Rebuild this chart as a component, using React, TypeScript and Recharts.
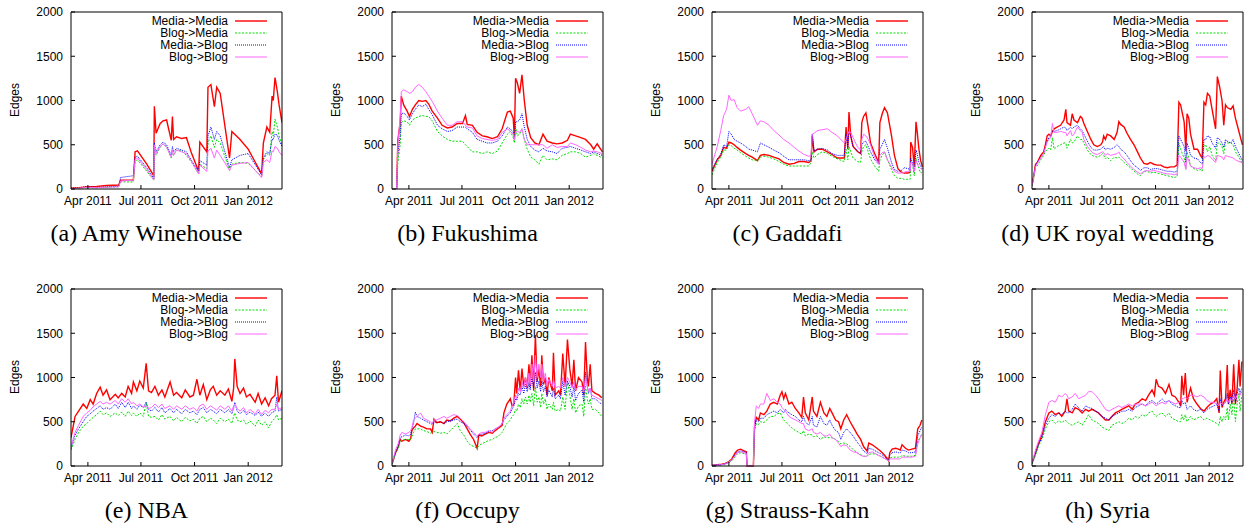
import React from 'react'
import { LineChart, Line, XAxis, YAxis } from 'recharts'

// x values are days after 1 Apr 2011
const X_TICKS = [0, 91, 183, 275]
const X_LABELS = ['Apr 2011', 'Jul 2011', 'Oct 2011', 'Jan 2012']
const Y_TICKS = [0, 500, 1000, 1500, 2000]
const SERIES = ['Media->Media', 'Blog->Media', 'Media->Blog', 'Blog->Blog']

// (a) Amy Winehouse
const amyDays = [-29, -14, 0, 15, 32, 53, 56, 78, 81, 85, 101, 113, 114, 117, 124, 129, 135, 143, 145, 147, 152, 161, 169, 178, 190, 192, 204, 206, 211, 217, 221, 227, 243, 247, 261, 275, 298, 301, 307, 312, 316, 318, 321, 325, 328, 333]
const amyMM = [10, 15, 25, 30, 40, 45, 100, 100, 420, 430, 280, 150, 935, 630, 740, 770, 780, 550, 820, 560, 590, 570, 580, 400, 200, 530, 420, 1150, 1180, 930, 1150, 1080, 350, 650, 560, 450, 170, 520, 700, 640, 1050, 1000, 1260, 1100, 950, 750]
const amyBM = [5, 10, 15, 15, 20, 25, 80, 80, 300, 330, 200, 100, 450, 380, 470, 510, 480, 350, 430, 380, 440, 430, 380, 300, 170, 280, 230, 520, 600, 470, 560, 520, 210, 280, 300, 290, 140, 330, 400, 380, 650, 600, 790, 700, 600, 500]
const amyMB = [10, 15, 30, 20, 25, 30, 130, 150, 360, 370, 240, 120, 520, 420, 500, 530, 500, 380, 480, 420, 460, 440, 420, 320, 200, 320, 270, 600, 700, 560, 650, 600, 240, 330, 380, 400, 160, 350, 420, 400, 560, 560, 620, 610, 550, 480]
const amyBB = [5, 10, 20, 15, 20, 25, 90, 100, 330, 350, 220, 100, 500, 400, 480, 510, 470, 360, 440, 380, 440, 420, 400, 310, 170, 270, 200, 430, 460, 350, 440, 380, 210, 270, 290, 300, 130, 300, 330, 300, 430, 420, 480, 460, 420, 380]

// (b) Fukushima
const fukDays = [-21, -19, -15, -13, -9, -3, 1, 6, 11, 17, 23, 29, 34, 40, 49, 57, 66, 74, 83, 92, 97, 100, 109, 117, 126, 134, 143, 152, 160, 169, 174, 179, 181, 183, 186, 190, 194, 198, 203, 209, 216, 223, 230, 237, 246, 254, 263, 272, 277, 286, 295, 303, 312, 317, 323, 332]
const fukMM = [0, 550, 750, 1050, 950, 880, 820, 900, 950, 1000, 990, 1000, 960, 880, 800, 720, 690, 700, 740, 740, 830, 730, 720, 640, 600, 590, 570, 590, 680, 870, 880, 800, 560, 1250, 1200, 1080, 1290, 1000, 720, 580, 520, 500, 620, 540, 520, 510, 520, 550, 620, 600, 580, 560, 500, 450, 510, 420]
const fukBM = [0, 300, 500, 750, 770, 760, 720, 780, 800, 820, 830, 820, 820, 770, 650, 600, 560, 540, 540, 540, 500, 480, 420, 420, 400, 420, 400, 430, 520, 620, 650, 580, 520, 700, 600, 620, 680, 560, 450, 360, 330, 280, 380, 330, 340, 330, 380, 400, 420, 420, 400, 360, 380, 400, 380, 350]
const fukMB = [0, 400, 600, 850, 860, 820, 780, 850, 900, 950, 930, 960, 900, 840, 720, 680, 650, 660, 700, 700, 700, 680, 640, 560, 540, 520, 520, 540, 600, 700, 680, 640, 560, 760, 760, 780, 850, 700, 560, 480, 440, 420, 460, 430, 420, 400, 460, 470, 480, 460, 440, 420, 400, 420, 400, 380]
const fukBB = [0, 500, 800, 1100, 1120, 1100, 1080, 1100, 1150, 1180, 1150, 1100, 1050, 990, 880, 800, 720, 720, 760, 760, 720, 700, 690, 600, 570, 560, 550, 560, 640, 680, 650, 620, 560, 640, 650, 640, 680, 560, 500, 500, 500, 500, 500, 460, 500, 470, 480, 480, 520, 500, 470, 440, 420, 430, 420, 400]

// (c) Gaddafi
const gadDays = [-29, -20, -14, -9, -4, 0, 4, 9, 14, 20, 29, 34, 40, 49, 54, 60, 69, 77, 86, 94, 103, 112, 120, 129, 137, 141, 143, 146, 152, 160, 169, 177, 186, 198, 201, 204, 206, 209, 213, 221, 226, 228, 231, 235, 239, 243, 250, 257, 259, 263, 267, 272, 279, 284, 290, 296, 301, 307, 311, 312, 315, 318, 321, 323, 326, 329, 332]
const gadMM = [200, 330, 380, 470, 460, 530, 520, 500, 470, 440, 400, 380, 360, 320, 380, 390, 380, 360, 340, 300, 280, 290, 310, 310, 300, 320, 600, 420, 450, 450, 420, 390, 350, 350, 700, 450, 870, 600, 480, 420, 400, 750, 820, 860, 700, 520, 400, 300, 750, 850, 920, 860, 600, 380, 230, 190, 180, 180, 190, 530, 470, 250, 760, 650, 450, 320, 250]
const gadBM = [160, 300, 360, 440, 440, 500, 490, 460, 440, 410, 370, 350, 330, 320, 360, 370, 360, 340, 310, 280, 260, 260, 260, 260, 260, 300, 420, 350, 390, 420, 400, 370, 340, 310, 450, 330, 480, 420, 350, 310, 300, 420, 480, 500, 420, 340, 260, 200, 330, 380, 420, 330, 220, 150, 120, 120, 110, 110, 110, 310, 280, 150, 350, 300, 230, 180, 200]
const gadMB = [220, 340, 390, 500, 480, 650, 620, 560, 540, 520, 480, 450, 440, 420, 520, 500, 470, 440, 410, 370, 330, 330, 330, 330, 320, 330, 620, 430, 450, 460, 440, 400, 380, 380, 620, 480, 640, 600, 480, 430, 400, 500, 530, 540, 480, 420, 330, 280, 450, 500, 560, 460, 300, 220, 200, 210, 240, 230, 220, 350, 300, 200, 440, 400, 300, 260, 220]
const gadBB = [280, 480, 660, 830, 900, 1060, 1000, 1010, 920, 880, 900, 930, 850, 720, 770, 760, 720, 660, 610, 560, 520, 470, 430, 390, 370, 380, 620, 630, 660, 670, 680, 640, 600, 520, 560, 620, 650, 640, 580, 470, 440, 560, 620, 600, 560, 500, 360, 280, 380, 410, 420, 330, 250, 200, 180, 180, 190, 200, 200, 300, 290, 200, 320, 290, 250, 230, 220]

// (d) UK royal wedding
const ukDays = [-29, -26, -23, -20, -14, -9, -6, -3, 0, 3, 6, 9, 14, 20, 26, 29, 31, 37, 40, 43, 49, 54, 57, 60, 66, 72, 77, 83, 89, 92, 94, 97, 100, 106, 112, 117, 120, 123, 129, 134, 140, 146, 152, 157, 163, 169, 174, 180, 186, 192, 197, 203, 209, 215, 220, 223, 226, 232, 235, 237, 240, 243, 249, 255, 260, 263, 266, 269, 272, 276, 280, 286, 289, 293, 297, 300, 303, 306, 312, 316, 320, 326, 332]
const ukMM = [50, 150, 280, 300, 380, 420, 500, 600, 620, 600, 650, 680, 700, 720, 780, 900, 750, 720, 850, 780, 750, 820, 800, 740, 650, 560, 500, 480, 500, 530, 600, 560, 620, 600, 560, 640, 760, 730, 700, 630, 560, 500, 420, 350, 290, 280, 300, 280, 270, 270, 250, 240, 250, 250, 270, 980, 950, 760, 430, 850, 800, 620, 450, 450, 380, 350, 980, 950, 1080, 1050, 900, 680, 1270, 1150, 1000, 720, 950, 920, 900, 940, 800, 650, 500]
const ukBM = [30, 120, 240, 260, 330, 380, 430, 440, 460, 440, 580, 450, 480, 500, 520, 520, 460, 560, 520, 530, 600, 560, 560, 520, 440, 390, 370, 360, 380, 400, 380, 340, 360, 320, 360, 350, 360, 340, 300, 270, 240, 200, 170, 150, 200, 200, 180, 190, 180, 170, 160, 150, 140, 130, 140, 520, 450, 350, 230, 420, 350, 260, 230, 210, 220, 200, 490, 500, 420, 480, 380, 320, 520, 520, 480, 400, 530, 520, 520, 500, 420, 360, 280]
const ukMB = [40, 150, 260, 300, 360, 400, 480, 540, 580, 600, 660, 650, 660, 680, 700, 690, 660, 700, 680, 700, 720, 680, 660, 620, 540, 470, 440, 440, 450, 470, 480, 440, 460, 450, 470, 500, 480, 450, 420, 380, 320, 270, 240, 210, 240, 240, 220, 230, 230, 220, 210, 200, 200, 190, 200, 600, 560, 480, 300, 520, 460, 380, 350, 340, 300, 280, 560, 560, 600, 590, 520, 460, 580, 560, 520, 470, 560, 540, 520, 560, 480, 400, 320]
const ukBB = [40, 140, 250, 290, 350, 400, 470, 530, 560, 580, 740, 640, 640, 650, 640, 640, 600, 660, 600, 620, 700, 660, 640, 560, 480, 430, 400, 390, 410, 420, 410, 380, 400, 380, 390, 400, 420, 380, 340, 300, 260, 220, 190, 170, 200, 210, 200, 210, 200, 190, 180, 170, 170, 160, 170, 380, 360, 300, 220, 360, 320, 260, 240, 230, 240, 230, 360, 360, 380, 370, 340, 300, 380, 370, 360, 330, 380, 370, 360, 350, 330, 310, 300]

// (e) NBA
const nbaDays = [-29, -22, -16, -8, -2, 4, 9, 15, 21, 26, 32, 38, 47, 52, 58, 64, 69, 75, 78, 84, 89, 95, 100, 104, 109, 115, 121, 127, 132, 141, 147, 152, 161, 167, 175, 181, 187, 192, 198, 204, 210, 215, 221, 227, 235, 241, 247, 250, 252, 256, 261, 267, 272, 278, 287, 292, 298, 304, 310, 315, 321, 324, 327, 333]
const nbaMM = [320, 560, 620, 700, 650, 750, 700, 820, 890, 800, 860, 750, 810, 770, 820, 780, 900, 820, 950, 850, 960, 880, 1160, 850, 830, 900, 800, 860, 780, 950, 800, 830, 770, 860, 780, 800, 980, 800, 920, 750, 860, 900, 800, 850, 800, 870, 730, 880, 1210, 900, 820, 880, 780, 810, 720, 820, 700, 770, 680, 760, 800, 1020, 720, 850]
const nbaBM = [180, 300, 380, 450, 480, 520, 550, 580, 620, 580, 600, 560, 600, 570, 610, 560, 620, 570, 600, 560, 600, 560, 720, 560, 550, 560, 520, 580, 530, 560, 510, 550, 500, 550, 510, 530, 480, 540, 560, 500, 540, 520, 480, 540, 500, 530, 480, 560, 600, 520, 500, 520, 470, 510, 450, 520, 460, 500, 430, 500, 540, 580, 520, 540]
const nbaMB = [200, 350, 420, 500, 560, 590, 620, 650, 680, 640, 660, 640, 700, 650, 720, 660, 720, 650, 680, 640, 690, 660, 720, 640, 620, 660, 610, 660, 600, 650, 600, 640, 590, 640, 600, 620, 580, 640, 660, 600, 640, 620, 590, 640, 600, 640, 590, 650, 720, 620, 590, 630, 580, 610, 570, 610, 560, 600, 560, 600, 620, 780, 620, 640]
const nbaBB = [220, 380, 460, 560, 600, 630, 670, 700, 730, 700, 720, 700, 740, 700, 760, 720, 760, 700, 720, 680, 700, 670, 680, 650, 660, 700, 660, 700, 650, 680, 640, 680, 640, 680, 640, 660, 620, 680, 700, 640, 680, 660, 630, 680, 640, 680, 620, 680, 700, 650, 620, 660, 600, 640, 590, 640, 580, 630, 600, 640, 640, 700, 640, 660]

// (f) Occupy
const occDays = [-29, -23, -18, -15, -12, -6, 0, 3, 5, 8, 11, 14, 20, 25, 31, 37, 40, 43, 48, 54, 60, 65, 71, 77, 83, 88, 94, 100, 105, 111, 117, 120, 125, 131, 137, 143, 148, 154, 160, 163, 168, 174, 177, 180, 183, 185, 188, 191, 194, 197, 200, 203, 206, 208, 211, 214, 217, 220, 223, 226, 228, 231, 234, 237, 240, 246, 248, 251, 257, 260, 264, 268, 272, 276, 280, 283, 286, 291, 297, 300, 303, 306, 308, 311, 314, 320, 326, 331]
const occMM = [20, 150, 220, 300, 280, 300, 280, 310, 400, 430, 450, 480, 450, 440, 420, 420, 380, 530, 490, 500, 480, 520, 510, 540, 560, 530, 490, 420, 360, 300, 200, 350, 340, 360, 380, 370, 400, 430, 460, 600, 700, 760, 680, 700, 1000, 820, 1080, 850, 1100, 900, 1000, 880, 1150, 900, 1250, 850, 1480, 950, 1100, 900, 1250, 920, 1000, 800, 1000, 850, 1280, 800, 850, 800, 1270, 900, 1430, 1100, 900, 1200, 850, 1000, 950, 800, 1400, 1000, 900, 1150, 850, 820, 800, 770]
const occBM = [20, 140, 200, 280, 290, 300, 300, 300, 330, 380, 420, 420, 420, 400, 390, 370, 380, 390, 380, 370, 380, 360, 400, 440, 480, 400, 350, 280, 240, 220, 200, 230, 250, 270, 290, 300, 320, 340, 380, 420, 480, 520, 560, 580, 640, 620, 700, 660, 760, 700, 780, 700, 800, 720, 820, 680, 900, 720, 780, 660, 820, 700, 760, 640, 700, 640, 720, 620, 640, 620, 780, 640, 960, 800, 640, 760, 600, 680, 700, 560, 900, 760, 700, 760, 640, 640, 600, 560]
const occMB = [30, 150, 230, 320, 330, 350, 340, 360, 420, 480, 610, 560, 540, 520, 500, 480, 470, 500, 490, 500, 480, 500, 510, 520, 530, 500, 480, 450, 410, 360, 320, 350, 360, 370, 390, 400, 420, 440, 480, 520, 560, 600, 640, 680, 760, 740, 820, 800, 900, 820, 920, 840, 940, 860, 1000, 880, 1060, 880, 960, 840, 960, 840, 900, 780, 860, 780, 880, 760, 800, 760, 960, 800, 960, 900, 780, 900, 740, 820, 860, 720, 1060, 900, 820, 880, 760, 760, 720, 700]
const occBB = [30, 180, 260, 350, 380, 360, 380, 400, 430, 520, 540, 560, 600, 540, 520, 500, 480, 520, 520, 540, 560, 540, 560, 580, 570, 540, 500, 460, 420, 380, 340, 360, 380, 380, 400, 380, 420, 440, 480, 540, 580, 620, 680, 720, 800, 760, 880, 840, 950, 880, 1000, 900, 1050, 920, 1150, 950, 1250, 1000, 1150, 1000, 1150, 950, 1050, 900, 980, 900, 980, 880, 900, 880, 1000, 900, 1000, 950, 880, 950, 860, 900, 900, 840, 1000, 900, 850, 880, 800, 780, 760, 740]

// (g) Strauss-Kahn
const dskDays = [-29, -20, -12, -6, 0, 5, 11, 15, 20, 26, 30, 31, 42, 44, 47, 51, 54, 60, 65, 71, 77, 83, 88, 91, 94, 97, 103, 108, 114, 120, 125, 128, 131, 137, 143, 145, 151, 157, 163, 168, 173, 177, 183, 188, 192, 197, 202, 208, 214, 220, 226, 231, 237, 240, 246, 254, 260, 266, 271, 274, 276, 280, 286, 291, 294, 297, 303, 308, 314, 320, 324, 328, 331]
const dskMM = [10, 15, 20, 30, 50, 80, 150, 180, 190, 170, 160, 0, 0, 450, 550, 520, 600, 580, 620, 700, 720, 700, 800, 840, 760, 820, 700, 720, 650, 600, 550, 780, 600, 520, 780, 620, 560, 720, 600, 560, 650, 600, 520, 500, 420, 520, 580, 500, 430, 360, 300, 220, 170, 260, 240, 200, 170, 130, 90, 60, 150, 190, 200, 190, 180, 240, 200, 180, 190, 200, 420, 460, 520]
const dskBM = [5, 8, 10, 20, 40, 60, 110, 140, 150, 140, 130, 0, 0, 400, 480, 470, 500, 490, 520, 560, 560, 590, 600, 560, 520, 500, 460, 430, 400, 380, 360, 400, 340, 360, 350, 330, 340, 300, 330, 320, 320, 320, 300, 280, 250, 260, 250, 220, 180, 150, 130, 110, 110, 130, 140, 130, 110, 90, 70, 60, 90, 100, 100, 100, 100, 120, 110, 110, 110, 120, 280, 320, 360]
const dskMB = [8, 10, 15, 25, 45, 70, 130, 160, 170, 160, 150, 0, 0, 430, 520, 500, 540, 540, 580, 600, 620, 600, 640, 620, 600, 640, 600, 580, 560, 520, 500, 560, 500, 460, 560, 460, 440, 560, 480, 460, 520, 460, 400, 380, 300, 380, 420, 380, 330, 270, 220, 170, 140, 200, 190, 160, 140, 110, 80, 60, 120, 150, 160, 150, 150, 180, 170, 150, 150, 160, 340, 400, 440]
const dskBB = [8, 10, 15, 25, 45, 70, 120, 150, 160, 150, 140, 0, 0, 500, 680, 650, 700, 700, 820, 740, 760, 720, 700, 660, 640, 620, 560, 540, 520, 500, 480, 480, 420, 400, 420, 380, 360, 380, 340, 340, 360, 320, 300, 260, 220, 240, 230, 180, 160, 150, 120, 110, 110, 150, 160, 130, 110, 90, 70, 60, 80, 80, 80, 80, 80, 100, 100, 100, 100, 110, 250, 320, 360]

// (h) Syria
const syrDays = [-29, -23, -18, -12, -6, 0, 5, 11, 17, 22, 28, 31, 34, 40, 45, 51, 57, 63, 68, 74, 80, 85, 91, 97, 103, 108, 114, 120, 125, 131, 137, 143, 148, 154, 160, 166, 171, 177, 181, 184, 188, 194, 200, 206, 211, 217, 223, 226, 228, 231, 234, 237, 243, 248, 254, 260, 266, 271, 277, 283, 288, 292, 294, 297, 300, 303, 306, 308, 311, 314, 317, 320, 323, 326, 328, 331]
const syrMM = [30, 150, 250, 350, 500, 600, 620, 580, 600, 560, 620, 760, 620, 600, 660, 640, 600, 640, 620, 640, 620, 600, 560, 520, 520, 560, 600, 620, 640, 660, 680, 640, 700, 720, 760, 740, 800, 860, 800, 980, 900, 880, 820, 920, 800, 780, 720, 680, 1020, 800, 1050, 720, 880, 760, 700, 650, 620, 660, 700, 720, 760, 600, 1080, 660, 720, 760, 1140, 700, 860, 700, 1150, 700, 880, 1200, 900, 1180]
const syrBM = [20, 120, 220, 300, 420, 500, 520, 480, 510, 490, 520, 500, 480, 460, 480, 500, 460, 520, 580, 520, 500, 480, 440, 420, 400, 460, 480, 500, 480, 500, 540, 520, 560, 540, 580, 560, 600, 620, 580, 560, 580, 600, 560, 600, 540, 520, 500, 500, 580, 520, 580, 500, 560, 520, 540, 560, 520, 540, 520, 500, 480, 460, 560, 500, 560, 520, 660, 520, 700, 580, 780, 500, 700, 820, 620, 800]
const syrMB = [30, 140, 240, 320, 460, 540, 580, 560, 600, 580, 620, 600, 600, 640, 700, 660, 620, 680, 660, 650, 620, 600, 560, 540, 520, 560, 580, 600, 620, 620, 640, 620, 660, 680, 700, 680, 720, 740, 720, 700, 720, 760, 720, 740, 700, 680, 660, 660, 740, 700, 720, 640, 680, 640, 620, 640, 600, 640, 660, 680, 700, 620, 760, 680, 700, 720, 820, 700, 780, 720, 860, 720, 820, 880, 820, 880]
const syrBB = [40, 180, 280, 380, 580, 720, 740, 720, 800, 780, 820, 800, 760, 780, 820, 760, 780, 800, 840, 840, 800, 760, 700, 640, 620, 640, 660, 680, 660, 680, 700, 680, 700, 700, 700, 680, 700, 720, 700, 680, 700, 720, 700, 740, 720, 700, 720, 740, 760, 760, 780, 760, 800, 800, 780, 800, 780, 740, 720, 720, 700, 680, 720, 700, 700, 720, 760, 720, 760, 740, 800, 760, 800, 820, 800, 840]

const PANELS = [
  { caption: '(a) Amy Winehouse', days: amyDays, series: [amyMM, amyBM, amyMB, amyBB] },
  { caption: '(b) Fukushima', days: fukDays, series: [fukMM, fukBM, fukMB, fukBB] },
  { caption: '(c) Gaddafi', days: gadDays, series: [gadMM, gadBM, gadMB, gadBB] },
  { caption: '(d) UK royal wedding', days: ukDays, series: [ukMM, ukBM, ukMB, ukBB] },
  { caption: '(e) NBA', days: nbaDays, series: [nbaMM, nbaBM, nbaMB, nbaBB] },
  { caption: '(f) Occupy', days: occDays, series: [occMM, occBM, occMB, occBB] },
  { caption: '(g) Strauss-Kahn', days: dskDays, series: [dskMM, dskBM, dskMB, dskBB] },
  { caption: '(h) Syria', days: syrDays, series: [syrMM, syrBM, syrMB, syrBB] },
]

const KEYS = ['mm', 'bm', 'mb', 'bb']
const LINE_STYLE = [
  { stroke: '#ff0000', width: 1.4, dash: undefined },
  { stroke: '#00dd00', width: 1, dash: '2 1.5' },
  { stroke: '#0000ff', width: 1, dash: '1 1' },
  { stroke: '#ff66ff', width: 1, dash: undefined },
]

const SANS = '"Liberation Sans", Arial, Helvetica, sans-serif'
const SERIF = '"Liberation Serif", "Times New Roman", serif'

// plot-area origins in the page
const COL_LEFT = [71, 392, 712, 1032]
const ROW_TOP = [12, 289]
const PLOT_W = 211
const PLOT_H = 177
const Y_AXIS_W = 71

function Panel({ panel, left, top }: { panel: (typeof PANELS)[number]; left: number; top: number }) {
  const data = panel.days.map((day, i) => {
    const row: Record<string, number> = { day }
    KEYS.forEach((k, s) => (row[k] = panel.series[s][i]))
    return row
  })
  const axisText = { fill: '#000', fontSize: 12, fontFamily: SANS }

  return (
    <div style={{ position: 'absolute', left: left - Y_AXIS_W, top: top - 12 }}>
      <LineChart
        width={Y_AXIS_W + PLOT_W + 3}
        height={12 + PLOT_H + 26}
        data={data}
        margin={{ top: 11, right: 2, bottom: 0, left: 0 }}
      >
        <XAxis
          xAxisId="b"
          dataKey="day"
          type="number"
          domain={[-29, 333]}
          allowDataOverflow
          ticks={X_TICKS}
          interval={0}
          tickFormatter={(v: number) => X_LABELS[X_TICKS.indexOf(v)]}
          height={26}
          tickSize={-4}
          tickMargin={11}
          stroke="#000"
          tick={axisText}
        />
        <XAxis
          xAxisId="t"
          orientation="top"
          dataKey="day"
          type="number"
          domain={[-29, 333]}
          allowDataOverflow
          ticks={X_TICKS}
          interval={0}
          height={1}
          tickSize={-4}
          tick={false}
          stroke="#000"
        />
        <YAxis
          yAxisId="l"
          type="number"
          domain={[0, 2000]}
          ticks={Y_TICKS}
          interval={0}
          width={Y_AXIS_W}
          tickSize={-4}
          tickMargin={12}
          stroke="#000"
          tick={axisText}
        />
        <YAxis
          yAxisId="r"
          orientation="right"
          type="number"
          domain={[0, 2000]}
          ticks={Y_TICKS}
          interval={0}
          width={1}
          tickSize={-4}
          tick={false}
          stroke="#000"
        />
        {KEYS.map((k, s) => (
          <Line
            key={k}
            xAxisId="b"
            yAxisId="l"
            dataKey={k}
            type="linear"
            stroke={LINE_STYLE[s].stroke}
            strokeWidth={LINE_STYLE[s].width}
            strokeDasharray={LINE_STYLE[s].dash}
            dot={false}
            activeDot={false}
            isAnimationActive={false}
          />
        ))}
      </LineChart>
    </div>
  )
}

export default function App() {
  return (
    <div
      style={{
        position: 'absolute',
        left: 0,
        top: 0,
        width: 1244,
        height: 525,
        background: '#fff',
        overflow: 'hidden',
      }}
    >
      {PANELS.map((p, k) => (
        <Panel key={k} panel={p} left={COL_LEFT[k % 4]} top={ROW_TOP[Math.floor(k / 4)]} />
      ))}

      {/* axis titles, legends and captions */}
      <svg width={1244} height={525} style={{ position: 'absolute', left: 0, top: 0, pointerEvents: 'none' }}>
        {PANELS.map((p, k) => {
          const l = COL_LEFT[k % 4]
          const t = ROW_TOP[Math.floor(k / 4)]
          return (
            <g key={k}>
              <text
                transform={`translate(${l - 56},${t + 88}) rotate(-90)`}
                textAnchor="middle"
                dominantBaseline="central"
                fontSize={12}
                fontFamily={SANS}
                fill="#000"
              >
                Edges
              </text>
              {SERIES.map((name, s) => (
                <g key={name}>
                  <text
                    x={l + 157}
                    y={t + 9 + s * 12}
                    textAnchor="end"
                    dominantBaseline="central"
                    fontSize={12}
                    fontFamily={SANS}
                    fill="#000"
                  >
                    {name}
                  </text>
                  <line
                    x1={l + 164}
                    x2={l + 196}
                    y1={t + 9 + s * 12}
                    y2={t + 9 + s * 12}
                    stroke={LINE_STYLE[s].stroke}
                    strokeWidth={LINE_STYLE[s].width}
                    strokeDasharray={LINE_STYLE[s].dash}
                  />
                </g>
              ))}
              <text x={l + 75.5} y={t + 229} textAnchor="middle" fontSize={24} fontFamily={SERIF} fill="#000">
                {p.caption}
              </text>
            </g>
          )
        })}
      </svg>
    </div>
  )
}
